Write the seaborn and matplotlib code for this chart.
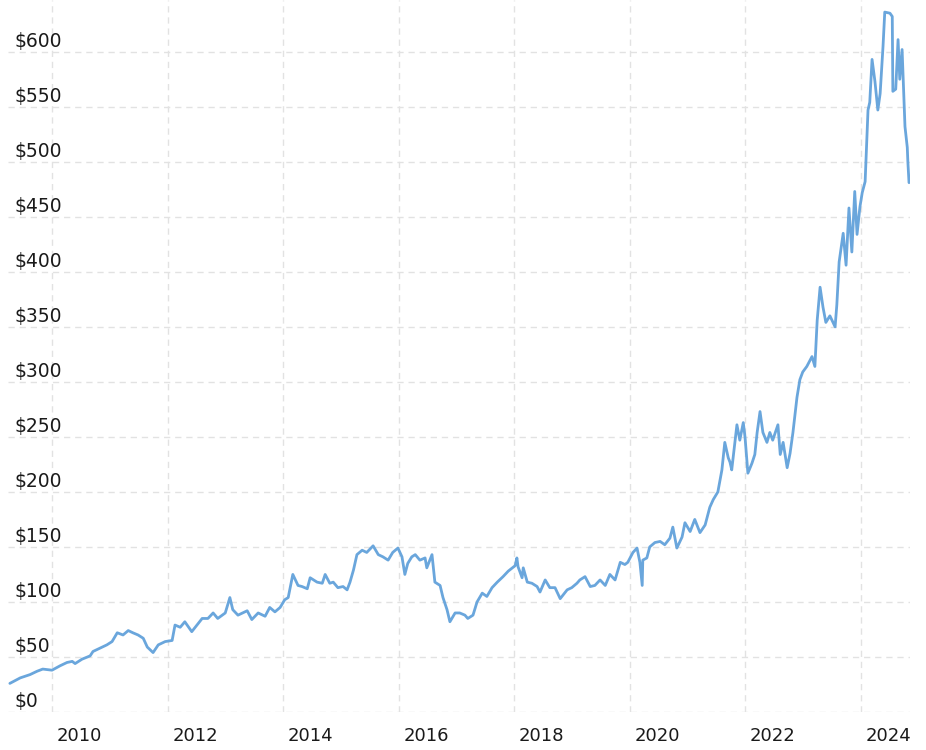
import numpy as np
import pandas as pd
import matplotlib
matplotlib.use("Agg")
import matplotlib.pyplot as plt
import matplotlib.transforms as mtransforms
import seaborn as sns

# price history (decimal year, $)
years = [2009.27, 2009.45, 2009.62, 2009.74, 2009.84, 2010.00, 2010.14, 2010.26, 2010.35, 2010.40,
         2010.52, 2010.66, 2010.71, 2010.83, 2010.95, 2011.04, 2011.13, 2011.23, 2011.32, 2011.40,
         2011.49, 2011.58, 2011.65, 2011.75, 2011.84, 2011.96, 2012.08, 2012.13, 2012.22, 2012.30,
         2012.42, 2012.51, 2012.60, 2012.70, 2012.79, 2012.87, 2013.00, 2013.08, 2013.13, 2013.22,
         2013.38, 2013.46, 2013.57, 2013.69, 2013.77, 2013.86, 2013.95, 2014.03, 2014.09, 2014.17,
         2014.26, 2014.33, 2014.42, 2014.47, 2014.59, 2014.68, 2014.73, 2014.81, 2014.87, 2014.95,
         2015.04, 2015.11, 2015.16, 2015.22, 2015.28, 2015.37, 2015.45, 2015.56, 2015.65, 2015.73,
         2015.82, 2015.90, 2015.99, 2016.06, 2016.11, 2016.16, 2016.23, 2016.29, 2016.37, 2016.46,
         2016.49, 2016.58, 2016.63, 2016.72, 2016.77, 2016.84, 2016.89, 2016.98, 2017.06, 2017.15,
         2017.20, 2017.29, 2017.36, 2017.45, 2017.53, 2017.62, 2017.71, 2017.81, 2017.90, 2018.02,
         2018.05, 2018.07, 2018.14, 2018.16, 2018.23, 2018.31, 2018.40, 2018.45, 2018.54, 2018.62,
         2018.71, 2018.80, 2018.92, 2019.00, 2019.09, 2019.14, 2019.23, 2019.32, 2019.40, 2019.49,
         2019.58, 2019.66, 2019.75, 2019.84, 2019.92, 2019.97, 2020.06, 2020.13, 2020.18, 2020.22,
         2020.23, 2020.30, 2020.35, 2020.44, 2020.53, 2020.61, 2020.70, 2020.75, 2020.82, 2020.91,
         2020.96, 2021.05, 2021.13, 2021.22, 2021.31, 2021.39, 2021.45, 2021.53, 2021.60, 2021.65,
         2021.71, 2021.74, 2021.77, 2021.86, 2021.91, 2021.97, 2022.00, 2022.05, 2022.12, 2022.17,
         2022.21, 2022.26, 2022.31, 2022.38, 2022.43, 2022.48, 2022.57, 2022.61, 2022.66, 2022.73,
         2022.78, 2022.83, 2022.90, 2022.95, 2023.00, 2023.07, 2023.16, 2023.21, 2023.25, 2023.30,
         2023.35, 2023.40, 2023.47, 2023.56, 2023.59, 2023.63, 2023.70, 2023.75, 2023.80, 2023.85,
         2023.90, 2023.94, 2023.99, 2024.03, 2024.08, 2024.13, 2024.16, 2024.20, 2024.25, 2024.30,
         2024.34, 2024.39, 2024.42, 2024.51, 2024.55, 2024.56, 2024.61, 2024.65, 2024.68, 2024.72,
         2024.77, 2024.81, 2024.82, 2024.84]
prices = [26, 31, 34, 37, 39, 38, 42, 45, 46, 44,
          48, 51, 55, 58, 61, 64, 72, 70, 74, 72,
          70, 67, 59, 54, 61, 64, 65, 79, 77, 82,
          73, 79, 85, 85, 90, 85, 90, 104, 93, 88,
          92, 84, 90, 87, 95, 91, 95, 102, 104, 125,
          115, 114, 112, 122, 118, 117, 125, 117, 118, 113,
          114, 111, 118, 129, 143, 147, 145, 151, 143, 141,
          138, 145, 149, 141, 125, 135, 141, 143, 138, 140,
          131, 143, 118, 115, 104, 93, 82, 90, 90, 88,
          85, 88, 100, 108, 105, 113, 118, 123, 128, 133,
          140, 132, 122, 131, 118, 117, 114, 109, 120, 113,
          113, 103, 111, 113, 117, 120, 123, 114, 115, 120,
          115, 125, 120, 136, 134, 136, 145, 149, 136, 115,
          138, 140, 150, 154, 155, 152, 158, 168, 149, 159,
          172, 164, 175, 163, 170, 186, 193, 200, 220, 245,
          231, 227, 220, 261, 247, 263, 250, 217, 226, 234,
          254, 273, 254, 245, 254, 247, 261, 234, 245, 222,
          235, 254, 286, 302, 309, 314, 323, 314, 356, 386,
          368, 354, 360, 350, 370, 409, 435, 406, 458, 418,
          473, 434, 459, 472, 482, 547, 554, 593, 573, 547,
          562, 605, 636, 635, 632, 564, 566, 611, 575, 602,
          532, 513, 500, 481]

y_ticks = [0, 50, 100, 150, 200, 250, 300, 350, 400, 450, 500, 550, 600]
x_label_years = [2010, 2012, 2014, 2016, 2018, 2020, 2022, 2024]

df = pd.DataFrame({"year": years, "price": prices})

sns.set_theme(style="white")
plt.rcParams["font.family"] = ["DejaVu Sans"]

fig = plt.figure(figsize=(9.26, 7.5), dpi=100)
ax = fig.add_axes([8 / 926, 38 / 750, 902 / 926, 712 / 750])

grid_kw = dict(color="#e2e2e2", linewidth=1.0, linestyle=(0, (4.5, 3.5)), zorder=0)
for v in y_ticks:
    ax.axhline(v, **grid_kw)
for yr in x_label_years:
    ax.axvline(yr, **grid_kw)

sns.lineplot(data=df, x="year", y="price", ax=ax, color="#6aa6dc", linewidth=2.0, zorder=3)

ax.set_xlim(2009.238, 2024.857)
ax.set_ylim(0, 647)
for s in ax.spines.values():
    s.set_visible(False)

ax.set_yticks([])
ax.set_xticks([y + 0.48 for y in x_label_years])
ax.set_xticklabels([str(y) for y in x_label_years], fontsize=13, color="#1a1a1a")
ax.tick_params(axis="x", length=0, pad=11)
ax.set_xlabel("")
ax.set_ylabel("")

trans = mtransforms.blended_transform_factory(ax.transAxes, ax.transData)
for v in y_ticks:
    ax.text(0.0067, v + 1, f"${v}", transform=trans, ha="left", va="bottom",
            fontsize=13.5, color="#1a1a1a", zorder=4)

fig.savefig("out.png", dpi=100)
